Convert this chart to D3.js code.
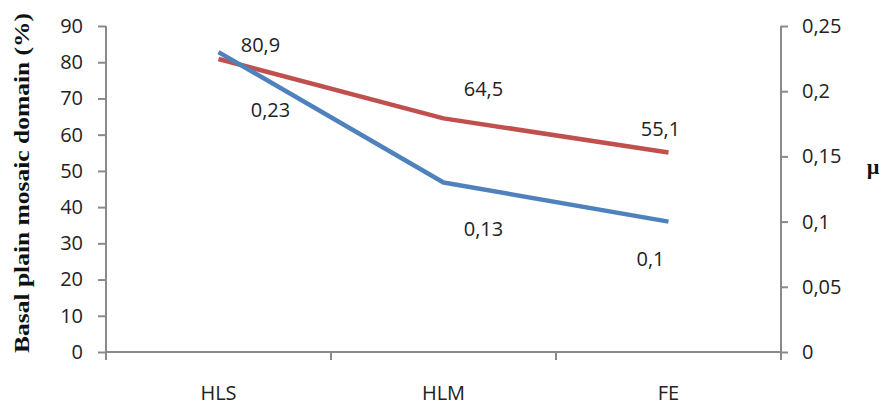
<!DOCTYPE html>
<html>
<head>
<meta charset="utf-8">
<script src="https://cdn.jsdelivr.net/npm/d3@7"></script>
<style>
  html, body { margin: 0; padding: 0; background: #fff; }
  svg { display: block; }
</style>
</head>
<body>
<script>
// ---- Data ----
const categories = ["HLS", "HLM", "FE"];
const domainValues = [80.9, 64.5, 55.1];      // left axis (%), red
const muValues = [0.23, 0.13, 0.1];           // right axis (µ), blue
const domainLabels = ["80,9", "64,5", "55,1"];
const muLabels = ["0,23", "0,13", "0,1"];
const leftTicks = [0, 10, 20, 30, 40, 50, 60, 70, 80, 90];
const rightTicks = [0, 0.05, 0.1, 0.15, 0.2, 0.25];
const rightTickLabels = ["0", "0,05", "0,1", "0,15", "0,2", "0,25"];
const leftTitle = "Basal plain mosaic domain (%)";
const rightTitle = "µ";

// ---- Layout (label offsets in px, relative to points) ----
const domainLabelOffsets = [[42, -14], [40, -30], [-8, -24]];
const muLabelOffsets = [[52, 58], [40, 46], [-18, 37]];

(function () {
const W = 881, H = 405;
const pLeft = 106, pRight = 781, pTop = 26, pBottom = 352;
const red = "#C0504D", blue = "#4F81BD", axisColor = "#8a8a8a", textColor = "#222";
const font = "'Open Sans', sans-serif";

const svg = d3.select("body").append("svg").attr("width", W).attr("height", H);
svg.append("rect").attr("width", W).attr("height", H).attr("fill", "#fff");

const x = d3.scaleBand().domain(categories).range([pLeft, pRight]).padding(0);
const yL = d3.scaleLinear().domain([0, 90]).range([pBottom, pTop]);
const yR = d3.scaleLinear().domain([0, 0.25]).range([pBottom, pTop]);
const cx = c => x(c) + x.bandwidth() / 2;

// Left axis
const gL = svg.append("g").attr("transform", `translate(${pLeft},0)`)
  .call(d3.axisLeft(yL).tickValues(leftTicks).tickSize(8).tickSizeOuter(0).tickPadding(15));
gL.select(".domain").remove();
gL.selectAll(".tick line").attr("stroke", axisColor).attr("stroke-width", 2);
gL.selectAll(".tick text").attr("font-family", font).attr("font-size", 20).attr("fill", textColor);
svg.append("line").attr("x1", pLeft).attr("x2", pLeft).attr("y1", yL(90)).attr("y2", yL(0) + 8)
  .attr("stroke", axisColor).attr("stroke-width", 2);

// Right axis
const gR = svg.append("g").attr("transform", `translate(${pRight},0)`)
  .call(d3.axisRight(yR).tickValues(rightTicks).tickSize(7).tickSizeOuter(0).tickPadding(14)
    .tickFormat((d, i) => rightTickLabels[i]));
gR.select(".domain").remove();
gR.selectAll(".tick line").attr("stroke", axisColor).attr("stroke-width", 2);
gR.selectAll(".tick text").attr("font-family", font).attr("font-size", 20).attr("fill", textColor);
svg.append("line").attr("x1", pRight).attr("x2", pRight).attr("y1", yR(0.25)).attr("y2", yR(0) + 8)
  .attr("stroke", axisColor).attr("stroke-width", 2);

// Bottom axis
const gB = svg.append("g").attr("transform", `translate(0,${pBottom})`)
  .call(d3.axisBottom(x).tickSize(0).tickPadding(34));
gB.select(".domain").remove();
gB.selectAll(".tick text").attr("font-family", font).attr("font-size", 20).attr("fill", textColor);
svg.append("line").attr("x1", pLeft).attr("x2", pRight).attr("y1", pBottom).attr("y2", pBottom)
  .attr("stroke", axisColor).attr("stroke-width", 2);
const boundaries = categories.map(c => x(c)).concat([x.range()[1]]);
svg.append("g").selectAll("line").data(boundaries).join("line")
  .attr("x1", d => d).attr("x2", d => d).attr("y1", pBottom).attr("y2", pBottom + 8)
  .attr("stroke", axisColor).attr("stroke-width", 2);

// Lines
const lineL = d3.line().x((d, i) => cx(categories[i])).y(d => yL(d));
const lineR = d3.line().x((d, i) => cx(categories[i])).y(d => yR(d));
svg.append("path").datum(domainValues).attr("d", lineL).attr("fill", "none")
  .attr("stroke", red).attr("stroke-width", 4.5).attr("stroke-linejoin", "round");
svg.append("path").datum(muValues).attr("d", lineR).attr("fill", "none")
  .attr("stroke", blue).attr("stroke-width", 4.5).attr("stroke-linejoin", "round");

// Data labels
svg.append("g").selectAll("text").data(domainValues).join("text")
  .attr("x", (d, i) => cx(categories[i]) + domainLabelOffsets[i][0])
  .attr("y", (d, i) => yL(d) + domainLabelOffsets[i][1])
  .attr("dy", "0.36em").attr("text-anchor", "middle")
  .attr("font-family", font).attr("font-size", 20).attr("fill", textColor)
  .text((d, i) => domainLabels[i]);
svg.append("g").selectAll("text").data(muValues).join("text")
  .attr("x", (d, i) => cx(categories[i]) + muLabelOffsets[i][0])
  .attr("y", (d, i) => yR(d) + muLabelOffsets[i][1])
  .attr("dy", "0.36em").attr("text-anchor", "middle")
  .attr("font-family", font).attr("font-size", 20).attr("fill", textColor)
  .text((d, i) => muLabels[i]);

// Axis titles
svg.append("text")
  .attr("transform", `translate(29,${(13 + 353) / 2}) rotate(-90)`)
  .attr("text-anchor", "middle")
  .attr("font-family", "'Liberation Serif', 'Times New Roman', serif")
  .attr("font-weight", "bold").attr("font-size", 22).attr("fill", "#111")
  .attr("textLength", 340).attr("lengthAdjust", "spacingAndGlyphs")
  .text(leftTitle);
svg.append("text")
  .attr("x", 873).attr("y", 174).attr("text-anchor", "middle")
  .attr("font-family", "'Liberation Serif', 'Times New Roman', serif")
  .attr("font-weight", "bold").attr("font-size", 22).attr("fill", "#111")
  .text(rightTitle);
})();
</script>
</body>
</html>
